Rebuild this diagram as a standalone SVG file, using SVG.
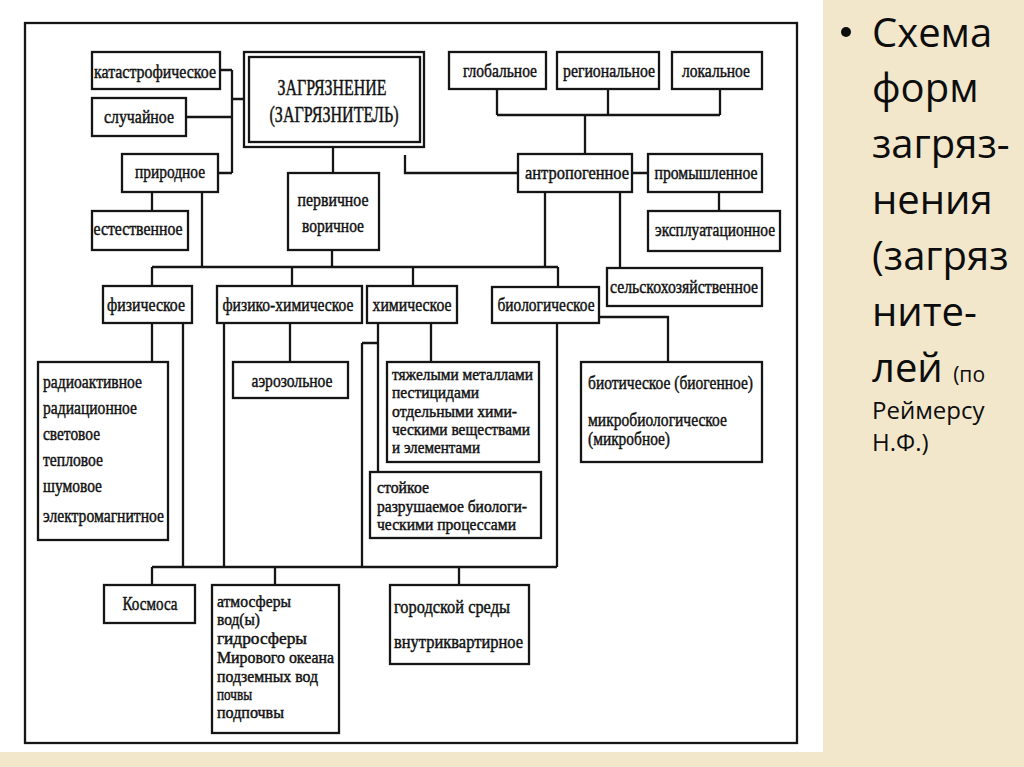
<svg xmlns="http://www.w3.org/2000/svg" width="1024" height="767" viewBox="0 0 1024 767">
<style>
.box{fill:#fff;stroke:#151515;stroke-width:2.3}
.ln{fill:none;stroke:#151515;stroke-width:2.3}
.t{font-family:"Liberation Serif","Times New Roman",serif;font-size:19px;fill:#111;stroke:#111;stroke-width:0.45}
.s{font-size:16.5px}
.c{text-anchor:middle}
.big{font-size:23px}
.r{font-family:"Open Sans","Noto Sans",sans-serif;fill:#0d0d0d}
</style>
<rect x="0" y="0" width="1024" height="767" fill="#f2e7cb"/>
<rect x="0" y="0" width="823" height="752" fill="#fff"/>
<rect x="25" y="23" width="772" height="720" class="ln"/>

<g id="connectors" class="ln">
<path d="M220,70 H232 M186,117 H232 M218,173 H232 M232,70 V173 M232,99 H244"/>
<path d="M152,192 V211 M202,192 V267"/>
<path d="M333,147 V173 M332,250 V267"/>
<path d="M405,155 V173 H518"/>
<path d="M497,89 V115 M608,89 V115 M720,89 V115 M497,115 H720 M585,115 V154"/>
<path d="M632,173 H648 M719,192 V211 M620,192 V268 M545,192 V267"/>
<path d="M152,267 H558 M152,267 V286 M292,267 V286 M413,267 V286 M558,267 V287"/>
<path d="M152,323 V362 M183,323 V567 M224,323 V567 M290,323 V362"/>
<path d="M378,323 V472 M362,343 H378 M362,343 V567 M431,323 V362"/>
<path d="M557,323 V567 M599,317 H668 V362"/>
<path d="M152,567 H557 M152,567 V585 M275,567 V585 M459,567 V585"/>
</g>

<g id="n-katastr"><rect class="box" x="92" y="52" width="128" height="37"/><text class="t c" x="155" y="78" textLength="122" lengthAdjust="spacingAndGlyphs">катастрофическое</text></g>
<g id="n-sluch"><rect class="box" x="92" y="98" width="94" height="38"/><text class="t c" x="139" y="123" textLength="70" lengthAdjust="spacingAndGlyphs">случайное</text></g>
<g id="n-prirod"><rect class="box" x="122" y="154" width="96" height="38"/><text class="t c" x="170" y="178" textLength="70" lengthAdjust="spacingAndGlyphs">природное</text></g>
<g id="n-estestv"><rect class="box" x="92" y="211" width="96" height="39"/><text class="t c" x="138" y="235" textLength="89" lengthAdjust="spacingAndGlyphs">естественное</text></g>
<g id="n-main"><rect class="box" x="244" y="52" width="180" height="95"/><rect class="box" x="249" y="57" width="171" height="85" stroke-width="3"/>
<text class="t c big" x="332" y="95" textLength="109" lengthAdjust="spacingAndGlyphs">ЗАГРЯЗНЕНИЕ</text>
<text class="t c big" x="334" y="122" textLength="129" lengthAdjust="spacingAndGlyphs">(ЗАГРЯЗНИТЕЛЬ)</text></g>
<g id="n-pervich"><rect class="box" x="288" y="173" width="91" height="77"/>
<text class="t c" x="333" y="206" textLength="71" lengthAdjust="spacingAndGlyphs">первичное</text>
<text class="t c" x="333" y="232" textLength="62" lengthAdjust="spacingAndGlyphs">воричное</text></g>
<g id="n-global"><rect class="box" x="449" y="52" width="97" height="37"/><text class="t c" x="500" y="77" textLength="74" lengthAdjust="spacingAndGlyphs">глобальное</text></g>
<g id="n-region"><rect class="box" x="557" y="52" width="102" height="37"/><text class="t c" x="609" y="77" textLength="92" lengthAdjust="spacingAndGlyphs">региональное</text></g>
<g id="n-local"><rect class="box" x="672" y="52" width="90" height="37"/><text class="t c" x="716" y="77" textLength="68" lengthAdjust="spacingAndGlyphs">локальное</text></g>
<g id="n-antrop"><rect class="box" x="518" y="154" width="114" height="38"/><text class="t c" x="577" y="179" textLength="104" lengthAdjust="spacingAndGlyphs">антропогенное</text></g>
<g id="n-promysh"><rect class="box" x="648" y="154" width="114" height="38"/><text class="t c" x="706" y="179" textLength="103" lengthAdjust="spacingAndGlyphs">промышленное</text></g>
<g id="n-expl"><rect class="box" x="648" y="211" width="132" height="40"/><text class="t c" x="715" y="236" textLength="120" lengthAdjust="spacingAndGlyphs">эксплуатационное</text></g>
<g id="n-selsk"><rect class="box" x="607" y="268" width="155" height="38"/><text class="t c" x="684" y="293" textLength="148" lengthAdjust="spacingAndGlyphs">сельскохозяйственное</text></g>
<g id="n-fiz"><rect class="box" x="103" y="286" width="89" height="37"/><text class="t c" x="146" y="311" textLength="78" lengthAdjust="spacingAndGlyphs">физическое</text></g>
<g id="n-fizhim"><rect class="box" x="217" y="286" width="145" height="37"/><text class="t c" x="288" y="311" textLength="131" lengthAdjust="spacingAndGlyphs">физико-химическое</text></g>
<g id="n-him"><rect class="box" x="367" y="286" width="90" height="37"/><text class="t c" x="412" y="311" textLength="79" lengthAdjust="spacingAndGlyphs">химическое</text></g>
<g id="n-bio"><rect class="box" x="492" y="287" width="107" height="36"/><text class="t c" x="546" y="311" textLength="97" lengthAdjust="spacingAndGlyphs">биологическое</text></g>
<g id="n-radio"><rect class="box" x="38" y="362" width="130" height="178"/>
<text class="t" x="43" y="388" textLength="99" lengthAdjust="spacingAndGlyphs">радиоактивное</text>
<text class="t" x="43" y="414" textLength="94" lengthAdjust="spacingAndGlyphs">радиационное</text>
<text class="t" x="43" y="440" textLength="57" lengthAdjust="spacingAndGlyphs">световое</text>
<text class="t" x="43" y="466" textLength="60" lengthAdjust="spacingAndGlyphs">тепловое</text>
<text class="t" x="43" y="492" textLength="59" lengthAdjust="spacingAndGlyphs">шумовое</text>
<text class="t" x="43" y="522" textLength="121" lengthAdjust="spacingAndGlyphs">электромагнитное</text></g>
<g id="n-aero"><rect class="box" x="233" y="362" width="115" height="36"/><text class="t c" x="292" y="387" textLength="81" lengthAdjust="spacingAndGlyphs">аэрозольное</text></g>
<g id="n-tyazh"><rect class="box" x="387" y="362" width="152" height="100"/>
<text class="t s" x="392" y="380" textLength="141" lengthAdjust="spacingAndGlyphs">тяжелыми металлами</text>
<text class="t s" x="392" y="398" textLength="87" lengthAdjust="spacingAndGlyphs">пестицидами</text>
<text class="t s" x="392" y="417" textLength="125" lengthAdjust="spacingAndGlyphs">отдельными хими-</text>
<text class="t s" x="392" y="435" textLength="138" lengthAdjust="spacingAndGlyphs">ческими веществами</text>
<text class="t s" x="392" y="453" textLength="88" lengthAdjust="spacingAndGlyphs">и элементами</text></g>
<g id="n-stoik"><rect class="box" x="370" y="472" width="171" height="66"/>
<text class="t s" x="377" y="493" textLength="52" lengthAdjust="spacingAndGlyphs">стойкое</text>
<text class="t s" x="377" y="512" textLength="150" lengthAdjust="spacingAndGlyphs">разрушаемое биологи-</text>
<text class="t s" x="377" y="530" textLength="139" lengthAdjust="spacingAndGlyphs">ческими процессами</text></g>
<g id="n-biot"><rect class="box" x="581" y="362" width="181" height="100"/>
<text class="t" x="588" y="389" textLength="165" lengthAdjust="spacingAndGlyphs">биотическое (биогенное)</text>
<text class="t" x="588" y="426" textLength="139" lengthAdjust="spacingAndGlyphs">микробиологическое</text>
<text class="t" x="588" y="445" textLength="82" lengthAdjust="spacingAndGlyphs">(микробное)</text></g>
<g id="n-kosmos"><rect class="box" x="104" y="585" width="91" height="38"/><text class="t c" x="150" y="610" textLength="55" lengthAdjust="spacingAndGlyphs">Космоса</text></g>
<g id="n-atm"><rect class="box" x="212" y="585" width="127" height="148"/>
<text class="t s" x="217" y="607" textLength="74" lengthAdjust="spacingAndGlyphs">атмосферы</text>
<text class="t s" x="217" y="625" textLength="43" lengthAdjust="spacingAndGlyphs">вод(ы)</text>
<text class="t s" x="217" y="644" textLength="90" lengthAdjust="spacingAndGlyphs">гидросферы</text>
<text class="t s" x="217" y="663" textLength="117" lengthAdjust="spacingAndGlyphs">Мирового океана</text>
<text class="t s" x="217" y="682" textLength="101" lengthAdjust="spacingAndGlyphs">подземных вод</text>
<text class="t s" x="217" y="700" textLength="35" lengthAdjust="spacingAndGlyphs">почвы</text>
<text class="t s" x="217" y="718" textLength="67" lengthAdjust="spacingAndGlyphs">подпочвы</text></g>
<g id="n-gorod"><rect class="box" x="390" y="585" width="139" height="79"/>
<text class="t" x="394" y="613" textLength="116" lengthAdjust="spacingAndGlyphs">городской среды</text>
<text class="t" x="394" y="648" textLength="129" lengthAdjust="spacingAndGlyphs">внутриквартирное</text></g>

<g id="caption" class="r">
<circle cx="846" cy="32" r="5" fill="#0d0d0d"/>
<text x="872" y="47" font-size="40">Схема</text>
<text x="872" y="102" font-size="40">форм</text>
<text x="872" y="158" font-size="40">загряз-</text>
<text x="872" y="214" font-size="40">нения</text>
<text x="872" y="270" font-size="40">(загряз</text>
<text x="872" y="326" font-size="40">ните-</text>
<text x="872" y="382" font-size="40">лей <tspan font-size="21">(по</tspan></text>
<text x="872" y="419" font-size="24">Реймерсу</text>
<text x="872" y="451" font-size="24">Н.Ф.)</text>
</g>
</svg>
